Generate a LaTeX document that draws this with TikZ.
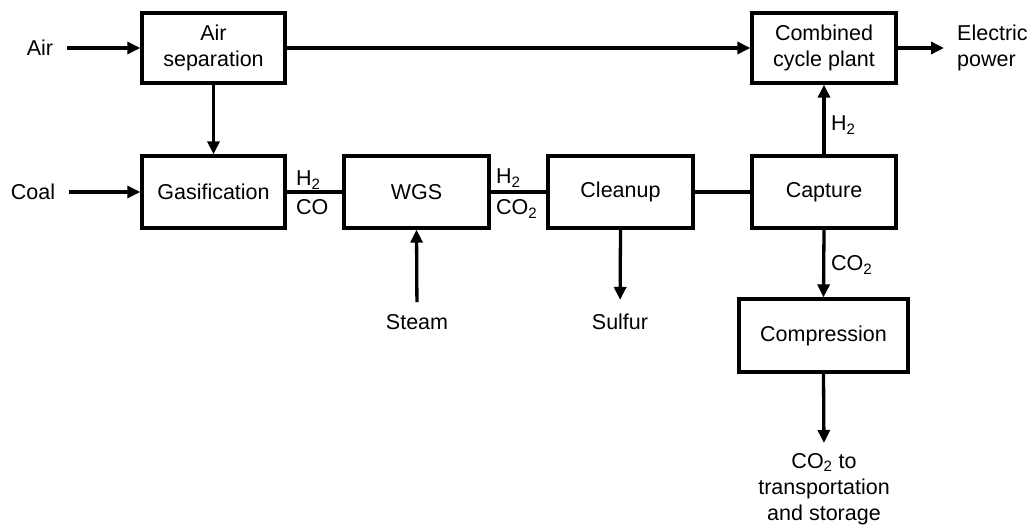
\documentclass[tikz,border=0pt]{standalone}
\usepackage{fontspec}
\setmainfont{Liberation Sans}
\usetikzlibrary{arrows.meta}
\begin{document}
\begin{tikzpicture}[x=1pt,y=-1pt,
  box/.style={draw,line width=3.3pt,align=center,font=\fontsize{21.5}{26}\selectfont,inner sep=0pt},
  lbl/.style={font=\fontsize{21.5}{26}\selectfont,align=center,inner sep=0pt},
  sub/.style={font=\fontsize{21.5}{26}\selectfont,inner sep=0pt,anchor=west},
  conn/.style={line width=3.3pt},
  arr/.style={line width=3.3pt,-{Triangle[length=13pt,width=12pt]}}]
\fill[white] (0,0) rectangle (1033,532);
\useasboundingbox (0,0) rectangle (1033,532);
% boxes
\node[box,minimum width=143pt,minimum height=70pt] (airsep) at (213.5,48) {Air\\separation};
\node[box,minimum width=143pt,minimum height=72pt] (gas) at (213.5,192) {Gasification};
\node[box,minimum width=145pt,minimum height=72pt] (wgs) at (416.5,192) {WGS};
\node[box,minimum width=145pt,minimum height=72pt] (clean) at (620.5,192) {Cleanup};
\node[box,minimum width=144pt,minimum height=72pt] (cap) at (824,192) {Capture};
\node[box,minimum width=144pt,minimum height=70pt] (ccp) at (824,48) {Combined\\cycle plant};
\node[box,minimum width=169pt,minimum height=73pt] (comp) at (823.5,335.5) {Compression};
% free labels
\node[lbl] (air) at (40,48) {Air};
\node[lbl] (coal) at (33,192) {Coal};
\node[lbl,anchor=west,align=left] (elec) at (957,48) {Electric\\power};
\node[lbl] (steam) at (417,322) {Steam};
\node[lbl] (sulfur) at (620,322) {Sulfur};
\node[lbl,anchor=north] (store) at (824,453) {CO\textsubscript{2} to\\transportation\\and storage};
% stream labels
\node[sub] (h2a) at (296,180) {H\textsubscript{2}};
\node[sub] (coa) at (296,207) {CO};
\node[sub] (h2b) at (496,178) {H\textsubscript{2}};
\node[sub] (co2b) at (496,209) {CO\textsubscript{2}};
\node[sub] (h2c) at (831,125) {H\textsubscript{2}};
\node[sub] (co2c) at (831,265) {CO\textsubscript{2}};
% connectors
\draw[arr,shorten <=14pt] (air.east) -- (airsep.west);
\draw[arr,shorten <=14pt] (coal.east) -- (gas.west);
\draw[arr] (airsep.south) -- (gas.north);
\draw[arr] (airsep.east) -- (ccp.west);
\draw[arr,shorten >=-1pt] (ccp.east) -- ([xshift=-14pt]elec.west);
\draw[conn] (gas.east) -- (wgs.west);
\draw[conn] (wgs.east) -- (clean.west);
\draw[conn] (clean.east) -- (cap.west);
\draw[arr,shorten <=12pt] (steam.north) -- (wgs.south);
\draw[arr,shorten >=14pt] (clean.south) -- (sulfur.north);
\draw[arr] (cap.north) -- (ccp.south);
\draw[arr] (cap.south) -- (comp.north);
\draw[arr,shorten >=10pt] (comp.south) -- (store.north);
\end{tikzpicture}
\end{document}
